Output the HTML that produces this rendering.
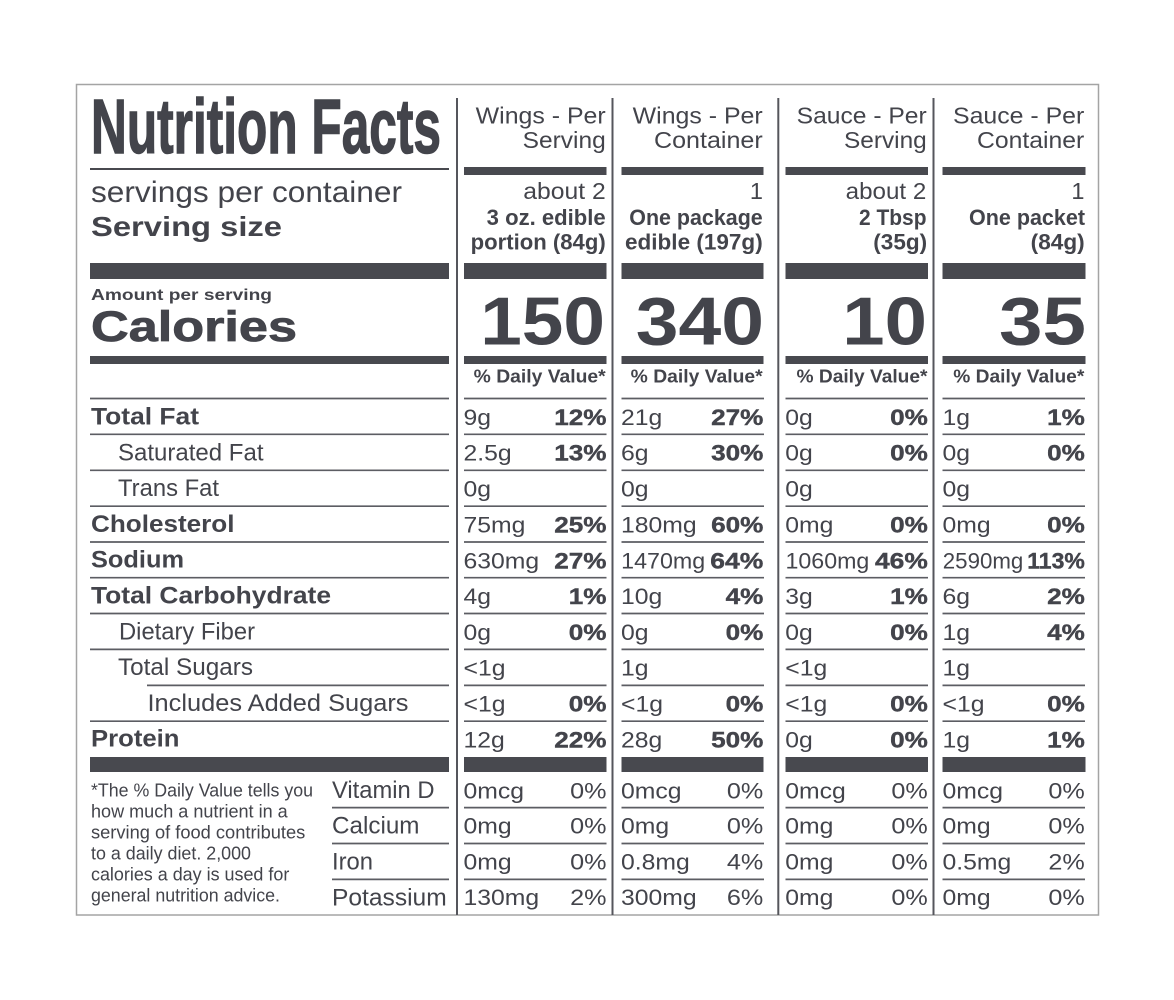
<!DOCTYPE html>
<html><head><meta charset="utf-8"><style>
html,body{margin:0;padding:0;background:#fff;}
svg{display:block;}
text{font-family:"Liberation Sans",Arial,sans-serif;fill:#43444b;}
.b{font-weight:bold;}
.v{font-size:22.5px;}
.p{font-size:22.5px;font-weight:bold;text-anchor:end;stroke:#43444b;stroke-width:0.4;}
.q{font-size:22.5px;text-anchor:end;}
.h{font-size:23px;}
.c{font-size:22px;font-weight:bold;}
.L{font-size:24px;font-weight:bold;}
.l{font-size:24.5px;}
.f{font-size:18px;}
.cal{font-size:68px;font-weight:bold;text-anchor:end;}
.dv{font-size:18.5px;font-weight:bold;}
</style></head><body>
<svg width="1174" height="1000" viewBox="0 0 1174 1000" xmlns="http://www.w3.org/2000/svg">
<rect x="0" y="0" width="1174" height="1000" fill="#fff"/>
<rect x="76.5" y="84.5" width="1022" height="830.5" fill="none" stroke="#a4a4a4" stroke-width="1.5"/>
<!-- vertical dividers -->
<g stroke="#55565c" stroke-width="2">
<line x1="457" y1="98" x2="457" y2="915"/>
<line x1="612.5" y1="98" x2="612.5" y2="915"/>
<line x1="778.3" y1="98" x2="778.3" y2="915"/>
<line x1="933.5" y1="98" x2="933.5" y2="915"/>
</g>
<!-- bars -->
<g fill="#48494f">
<rect x="90" y="168" width="359" height="2"/>
<rect x="464" y="167" width="142.5" height="8"/>
<rect x="621.5" y="167" width="142" height="8"/>
<rect x="785.5" y="167" width="142.5" height="8"/>
<rect x="942.5" y="167" width="143" height="8"/>

<rect x="90" y="263" width="359" height="16"/>
<rect x="464" y="263" width="142.5" height="16"/>
<rect x="621.5" y="263" width="142" height="16"/>
<rect x="785.5" y="263" width="142.5" height="16"/>
<rect x="942.5" y="263" width="143" height="16"/>

<rect x="90" y="356" width="359" height="8"/>
<rect x="464" y="356" width="142.5" height="8"/>
<rect x="621.5" y="356" width="142" height="8"/>
<rect x="785.5" y="356" width="142.5" height="8"/>
<rect x="942.5" y="356" width="143" height="8"/>

<rect x="90" y="757" width="359" height="15"/>
<rect x="464" y="757" width="142.5" height="15"/>
<rect x="621.5" y="757" width="142" height="15"/>
<rect x="785.5" y="757" width="142.5" height="15"/>
<rect x="942.5" y="757" width="143" height="15"/>
</g>
<!-- thin row lines -->
<g stroke="#5c5d63" stroke-width="1.7">
<line x1="90" y1="398.5" x2="449" y2="398.5"/>
<line x1="90" y1="434.3" x2="449" y2="434.3"/>
<line x1="90" y1="470.3" x2="449" y2="470.3"/>
<line x1="90" y1="506.2" x2="449" y2="506.2"/>
<line x1="90" y1="542" x2="449" y2="542"/>
<line x1="90" y1="577.7" x2="449" y2="577.7"/>
<line x1="90" y1="613.5" x2="449" y2="613.5"/>
<line x1="90" y1="649.4" x2="449" y2="649.4"/>
<line x1="147" y1="685.4" x2="449" y2="685.4"/>
<line x1="90" y1="721.2" x2="449" y2="721.2"/>
<line x1="332" y1="807.6" x2="449" y2="807.6"/>
<line x1="332" y1="843.5" x2="449" y2="843.5"/>
<line x1="332" y1="879.4" x2="449" y2="879.4"/>
</g>
<g stroke="#5c5d63" stroke-width="1.7">
<g id="cl1">
<line x1="464" y1="398.5" x2="606.5" y2="398.5"/>
<line x1="464" y1="434.3" x2="606.5" y2="434.3"/>
<line x1="464" y1="470.3" x2="606.5" y2="470.3"/>
<line x1="464" y1="506.2" x2="606.5" y2="506.2"/>
<line x1="464" y1="542" x2="606.5" y2="542"/>
<line x1="464" y1="577.7" x2="606.5" y2="577.7"/>
<line x1="464" y1="613.5" x2="606.5" y2="613.5"/>
<line x1="464" y1="649.4" x2="606.5" y2="649.4"/>
<line x1="464" y1="685.4" x2="606.5" y2="685.4"/>
<line x1="464" y1="721.2" x2="606.5" y2="721.2"/>
<line x1="464" y1="807.6" x2="606.5" y2="807.6"/>
<line x1="464" y1="843.5" x2="606.5" y2="843.5"/>
<line x1="464" y1="879.4" x2="606.5" y2="879.4"/>
</g>
<use href="#cl1" transform="translate(157.5,0)"/>
<use href="#cl1" transform="translate(321.5,0)"/>
<use href="#cl1" transform="translate(478.5,0)"/>
</g>

<!-- left header -->
<text x="91" y="153" class="b" font-size="77" textLength="350" lengthAdjust="spacingAndGlyphs" stroke="#43444b" stroke-width="1.4">Nutrition Facts</text>
<text x="91" y="202" font-size="30" textLength="311" lengthAdjust="spacingAndGlyphs">servings per container</text>
<text x="91" y="236" class="b" font-size="28" textLength="191" lengthAdjust="spacingAndGlyphs">Serving size</text>
<text x="91" y="300" class="b" font-size="16" textLength="181" lengthAdjust="spacingAndGlyphs">Amount per serving</text>
<text x="91" y="341" class="b" font-size="43" textLength="206" lengthAdjust="spacingAndGlyphs" stroke="#43444b" stroke-width="0.8">Calories</text>

<!-- left labels -->
<text x="91" y="424.3" class="L" textLength="108" lengthAdjust="spacingAndGlyphs">Total Fat</text>
<text x="118" y="460.3" class="l" textLength="145.5" lengthAdjust="spacingAndGlyphs">Saturated Fat</text>
<text x="118" y="496" class="l" textLength="101" lengthAdjust="spacingAndGlyphs">Trans Fat</text>
<text x="91" y="531.8" class="L" textLength="143.5" lengthAdjust="spacingAndGlyphs">Cholesterol</text>
<text x="91" y="567.6" class="L" textLength="93" lengthAdjust="spacingAndGlyphs">Sodium</text>
<text x="91" y="603.4" class="L" textLength="240" lengthAdjust="spacingAndGlyphs">Total Carbohydrate</text>
<text x="119" y="639.3" class="l" textLength="136" lengthAdjust="spacingAndGlyphs">Dietary Fiber</text>
<text x="118" y="675.1" class="l" textLength="135" lengthAdjust="spacingAndGlyphs">Total Sugars</text>
<text x="147.5" y="710.9" class="l" textLength="261" lengthAdjust="spacingAndGlyphs">Includes Added Sugars</text>
<text x="91" y="746.4" class="L" textLength="88.5" lengthAdjust="spacingAndGlyphs">Protein</text>

<text x="332" y="797.8" class="l" textLength="102.5" lengthAdjust="spacingAndGlyphs">Vitamin D</text>
<text x="332" y="833.5" class="l" textLength="87.5" lengthAdjust="spacingAndGlyphs">Calcium</text>
<text x="332" y="869.6" class="l" textLength="41" lengthAdjust="spacingAndGlyphs">Iron</text>
<text x="332" y="905.5" class="l" textLength="114.7" lengthAdjust="spacingAndGlyphs">Potassium</text>

<!-- footnote -->
<text x="91" y="796.7" class="f" textLength="222" lengthAdjust="spacingAndGlyphs">*The % Daily Value tells you</text>
<text x="91" y="817.7" class="f" textLength="196.7" lengthAdjust="spacingAndGlyphs">how much a nutrient in a</text>
<text x="91" y="838.7" class="f" textLength="214.3" lengthAdjust="spacingAndGlyphs">serving of food contributes</text>
<text x="91" y="859.7" class="f" textLength="160" lengthAdjust="spacingAndGlyphs">to a daily diet. 2,000</text>
<text x="91" y="880.7" class="f" textLength="198.3" lengthAdjust="spacingAndGlyphs">calories a day is used for</text>
<text x="91" y="901.7" class="f" textLength="189" lengthAdjust="spacingAndGlyphs">general nutrition advice.</text>

<!-- column headers -->
<text x="475.7" y="123.5" class="h" textLength="130" lengthAdjust="spacingAndGlyphs">Wings - Per</text>
<text x="522.7" y="148" class="h" textLength="83" lengthAdjust="spacingAndGlyphs">Serving</text>
<text x="632.7" y="123.5" class="h" textLength="130" lengthAdjust="spacingAndGlyphs">Wings - Per</text>
<text x="654" y="148" class="h" textLength="108.7" lengthAdjust="spacingAndGlyphs">Container</text>
<text x="796.7" y="123.5" class="h" textLength="130" lengthAdjust="spacingAndGlyphs">Sauce - Per</text>
<text x="844" y="148" class="h" textLength="82.7" lengthAdjust="spacingAndGlyphs">Serving</text>
<text x="953" y="123.5" class="h" textLength="131.3" lengthAdjust="spacingAndGlyphs">Sauce - Per</text>
<text x="977" y="148" class="h" textLength="107.3" lengthAdjust="spacingAndGlyphs">Container</text>

<!-- servings -->
<text x="523.3" y="199" font-size="23.5" textLength="82.4" lengthAdjust="spacingAndGlyphs">about 2</text>
<text x="486.7" y="224.8" class="c" textLength="119" lengthAdjust="spacingAndGlyphs">3 oz. edible</text>
<text x="470.7" y="249.6" class="c" textLength="135" lengthAdjust="spacingAndGlyphs">portion (84g)</text>
<text x="763" y="199" font-size="23.5" text-anchor="end">1</text>
<text x="629.3" y="224.8" class="c" textLength="133.4" lengthAdjust="spacingAndGlyphs">One package</text>
<text x="625" y="249.6" class="c" textLength="137.7" lengthAdjust="spacingAndGlyphs">edible (197g)</text>
<text x="845.7" y="199" font-size="23.5" textLength="80.6" lengthAdjust="spacingAndGlyphs">about 2</text>
<text x="859" y="224.8" class="c" textLength="67.5" lengthAdjust="spacingAndGlyphs">2 Tbsp</text>
<text x="873.3" y="249.6" class="c" textLength="53.8" lengthAdjust="spacingAndGlyphs">(35g)</text>
<text x="1084.5" y="199" font-size="23.5" text-anchor="end">1</text>
<text x="969" y="224.8" class="c" textLength="116" lengthAdjust="spacingAndGlyphs">One packet</text>
<text x="1030.7" y="249.6" class="c" textLength="54" lengthAdjust="spacingAndGlyphs">(84g)</text>

<!-- calories -->
<text class="cal" transform="translate(605,344.5) scale(1.1,1)">150</text>
<text class="cal" transform="translate(764,344.5) scale(1.13,1)">340</text>
<text class="cal" transform="translate(927,344.5) scale(1.12,1)">10</text>
<text class="cal" transform="translate(1086,344.5) scale(1.15,1)">35</text>

<!-- % daily value -->
<text x="473.7" y="382.5" class="dv" textLength="132" lengthAdjust="spacingAndGlyphs">% Daily Value*</text>
<text x="630.7" y="382.5" class="dv" textLength="132" lengthAdjust="spacingAndGlyphs">% Daily Value*</text>
<text x="796.5" y="382.5" class="dv" textLength="131" lengthAdjust="spacingAndGlyphs">% Daily Value*</text>
<text x="953.3" y="382.5" class="dv" textLength="131" lengthAdjust="spacingAndGlyphs">% Daily Value*</text>

<!-- column 1 values -->
<text class="v" transform="translate(463.5,425) scale(1.1,1)">9g</text>
<text class="p" transform="translate(606.5,425) scale(1.16,1)">12%</text>
<text class="v" transform="translate(463.5,460.5) scale(1.1,1)">2.5g</text>
<text class="p" transform="translate(606.5,460.5) scale(1.16,1)">13%</text>
<text class="v" transform="translate(463.5,496.5) scale(1.1,1)">0g</text>
<text class="v" transform="translate(463.5,532.3) scale(1.1,1)">75mg</text>
<text class="p" transform="translate(606.5,532.3) scale(1.16,1)">25%</text>
<text class="v" transform="translate(463.5,568.3) scale(1.1,1)">630mg</text>
<text class="p" transform="translate(606.5,568.3) scale(1.16,1)">27%</text>
<text class="v" transform="translate(463.5,604) scale(1.1,1)">4g</text>
<text class="p" transform="translate(606.5,604) scale(1.16,1)">1%</text>
<text class="v" transform="translate(463.5,640) scale(1.1,1)">0g</text>
<text class="p" transform="translate(606.5,640) scale(1.16,1)">0%</text>
<text class="v" transform="translate(463.5,675.5) scale(1.1,1)">&lt;1g</text>
<text class="v" transform="translate(463.5,711.5) scale(1.1,1)">&lt;1g</text>
<text class="p" transform="translate(606.5,711.5) scale(1.16,1)">0%</text>
<text class="v" transform="translate(463.5,747.3) scale(1.1,1)">12g</text>
<text class="p" transform="translate(606.5,747.3) scale(1.16,1)">22%</text>
<text class="v" transform="translate(463.5,798.3) scale(1.1,1)">0mcg</text>
<text class="q" transform="translate(606.5,798.3) scale(1.12,1)">0%</text>
<text class="v" transform="translate(463.5,833.5) scale(1.1,1)">0mg</text>
<text class="q" transform="translate(606.5,833.5) scale(1.12,1)">0%</text>
<text class="v" transform="translate(463.5,869.5) scale(1.1,1)">0mg</text>
<text class="q" transform="translate(606.5,869.5) scale(1.12,1)">0%</text>
<text class="v" transform="translate(463.5,905) scale(1.1,1)">130mg</text>
<text class="q" transform="translate(606.5,905) scale(1.12,1)">2%</text>

<!-- column 2 values -->
<text class="v" transform="translate(621,425) scale(1.1,1)">21g</text>
<text class="p" transform="translate(763.3,425) scale(1.16,1)">27%</text>
<text class="v" transform="translate(621,460.5) scale(1.1,1)">6g</text>
<text class="p" transform="translate(763.3,460.5) scale(1.16,1)">30%</text>
<text class="v" transform="translate(621,496.5) scale(1.1,1)">0g</text>
<text class="v" transform="translate(621,532.3) scale(1.1,1)">180mg</text>
<text class="p" transform="translate(763.3,532.3) scale(1.16,1)">60%</text>
<text x="621.2" y="568.3" class="v" textLength="84" lengthAdjust="spacingAndGlyphs">1470mg</text>
<text x="710.3" y="568.3" class="v b" textLength="53" lengthAdjust="spacingAndGlyphs" stroke="#43444b" stroke-width="0.4">64%</text>
<text class="v" transform="translate(621,604) scale(1.1,1)">10g</text>
<text class="p" transform="translate(763.3,604) scale(1.16,1)">4%</text>
<text class="v" transform="translate(621,640) scale(1.1,1)">0g</text>
<text class="p" transform="translate(763.3,640) scale(1.16,1)">0%</text>
<text class="v" transform="translate(621,675.5) scale(1.1,1)">1g</text>
<text class="v" transform="translate(621,711.5) scale(1.1,1)">&lt;1g</text>
<text class="p" transform="translate(763.3,711.5) scale(1.16,1)">0%</text>
<text class="v" transform="translate(621,747.3) scale(1.1,1)">28g</text>
<text class="p" transform="translate(763.3,747.3) scale(1.16,1)">50%</text>
<text class="v" transform="translate(621,798.3) scale(1.1,1)">0mcg</text>
<text class="q" transform="translate(763.3,798.3) scale(1.12,1)">0%</text>
<text class="v" transform="translate(621,833.5) scale(1.1,1)">0mg</text>
<text class="q" transform="translate(763.3,833.5) scale(1.12,1)">0%</text>
<text class="v" transform="translate(621,869.5) scale(1.1,1)">0.8mg</text>
<text class="q" transform="translate(763.3,869.5) scale(1.12,1)">4%</text>
<text class="v" transform="translate(621,905) scale(1.1,1)">300mg</text>
<text class="q" transform="translate(763.3,905) scale(1.12,1)">6%</text>

<!-- column 3 values -->
<text class="v" transform="translate(785.3,425) scale(1.1,1)">0g</text>
<text class="p" transform="translate(927.8,425) scale(1.16,1)">0%</text>
<text class="v" transform="translate(785.3,460.5) scale(1.1,1)">0g</text>
<text class="p" transform="translate(927.8,460.5) scale(1.16,1)">0%</text>
<text class="v" transform="translate(785.3,496.5) scale(1.1,1)">0g</text>
<text class="v" transform="translate(785.3,532.3) scale(1.1,1)">0mg</text>
<text class="p" transform="translate(927.8,532.3) scale(1.16,1)">0%</text>
<text x="785.5" y="568.3" class="v" textLength="83.8" lengthAdjust="spacingAndGlyphs">1060mg</text>
<text x="875" y="568.3" class="v b" textLength="52.8" lengthAdjust="spacingAndGlyphs" stroke="#43444b" stroke-width="0.4">46%</text>
<text class="v" transform="translate(785.3,604) scale(1.1,1)">3g</text>
<text class="p" transform="translate(927.8,604) scale(1.16,1)">1%</text>
<text class="v" transform="translate(785.3,640) scale(1.1,1)">0g</text>
<text class="p" transform="translate(927.8,640) scale(1.16,1)">0%</text>
<text class="v" transform="translate(785.3,675.5) scale(1.1,1)">&lt;1g</text>
<text class="v" transform="translate(785.3,711.5) scale(1.1,1)">&lt;1g</text>
<text class="p" transform="translate(927.8,711.5) scale(1.16,1)">0%</text>
<text class="v" transform="translate(785.3,747.3) scale(1.1,1)">0g</text>
<text class="p" transform="translate(927.8,747.3) scale(1.16,1)">0%</text>
<text class="v" transform="translate(785.3,798.3) scale(1.1,1)">0mcg</text>
<text class="q" transform="translate(927.8,798.3) scale(1.12,1)">0%</text>
<text class="v" transform="translate(785.3,833.5) scale(1.1,1)">0mg</text>
<text class="q" transform="translate(927.8,833.5) scale(1.12,1)">0%</text>
<text class="v" transform="translate(785.3,869.5) scale(1.1,1)">0mg</text>
<text class="q" transform="translate(927.8,869.5) scale(1.12,1)">0%</text>
<text class="v" transform="translate(785.3,905) scale(1.1,1)">0mg</text>
<text class="q" transform="translate(927.8,905) scale(1.12,1)">0%</text>

<!-- column 4 values -->
<text class="v" transform="translate(942.5,425) scale(1.1,1)">1g</text>
<text class="p" transform="translate(1084.8,425) scale(1.16,1)">1%</text>
<text class="v" transform="translate(942.5,460.5) scale(1.1,1)">0g</text>
<text class="p" transform="translate(1084.8,460.5) scale(1.16,1)">0%</text>
<text class="v" transform="translate(942.5,496.5) scale(1.1,1)">0g</text>
<text class="v" transform="translate(942.5,532.3) scale(1.1,1)">0mg</text>
<text class="p" transform="translate(1084.8,532.3) scale(1.16,1)">0%</text>
<text x="942.8" y="568.3" class="v" textLength="80.5" lengthAdjust="spacingAndGlyphs">2590mg</text>
<text x="1027.3" y="568.3" class="v b" textLength="57.5" lengthAdjust="spacingAndGlyphs" stroke="#43444b" stroke-width="0.4">113%</text>
<text class="v" transform="translate(942.5,604) scale(1.1,1)">6g</text>
<text class="p" transform="translate(1084.8,604) scale(1.16,1)">2%</text>
<text class="v" transform="translate(942.5,640) scale(1.1,1)">1g</text>
<text class="p" transform="translate(1084.8,640) scale(1.16,1)">4%</text>
<text class="v" transform="translate(942.5,675.5) scale(1.1,1)">1g</text>
<text class="v" transform="translate(942.5,711.5) scale(1.1,1)">&lt;1g</text>
<text class="p" transform="translate(1084.8,711.5) scale(1.16,1)">0%</text>
<text class="v" transform="translate(942.5,747.3) scale(1.1,1)">1g</text>
<text class="p" transform="translate(1084.8,747.3) scale(1.16,1)">1%</text>
<text class="v" transform="translate(942.5,798.3) scale(1.1,1)">0mcg</text>
<text class="q" transform="translate(1084.8,798.3) scale(1.12,1)">0%</text>
<text class="v" transform="translate(942.5,833.5) scale(1.1,1)">0mg</text>
<text class="q" transform="translate(1084.8,833.5) scale(1.12,1)">0%</text>
<text class="v" transform="translate(942.5,869.5) scale(1.1,1)">0.5mg</text>
<text class="q" transform="translate(1084.8,869.5) scale(1.12,1)">2%</text>
<text class="v" transform="translate(942.5,905) scale(1.1,1)">0mg</text>
<text class="q" transform="translate(1084.8,905) scale(1.12,1)">0%</text>
</svg>
</body></html>
